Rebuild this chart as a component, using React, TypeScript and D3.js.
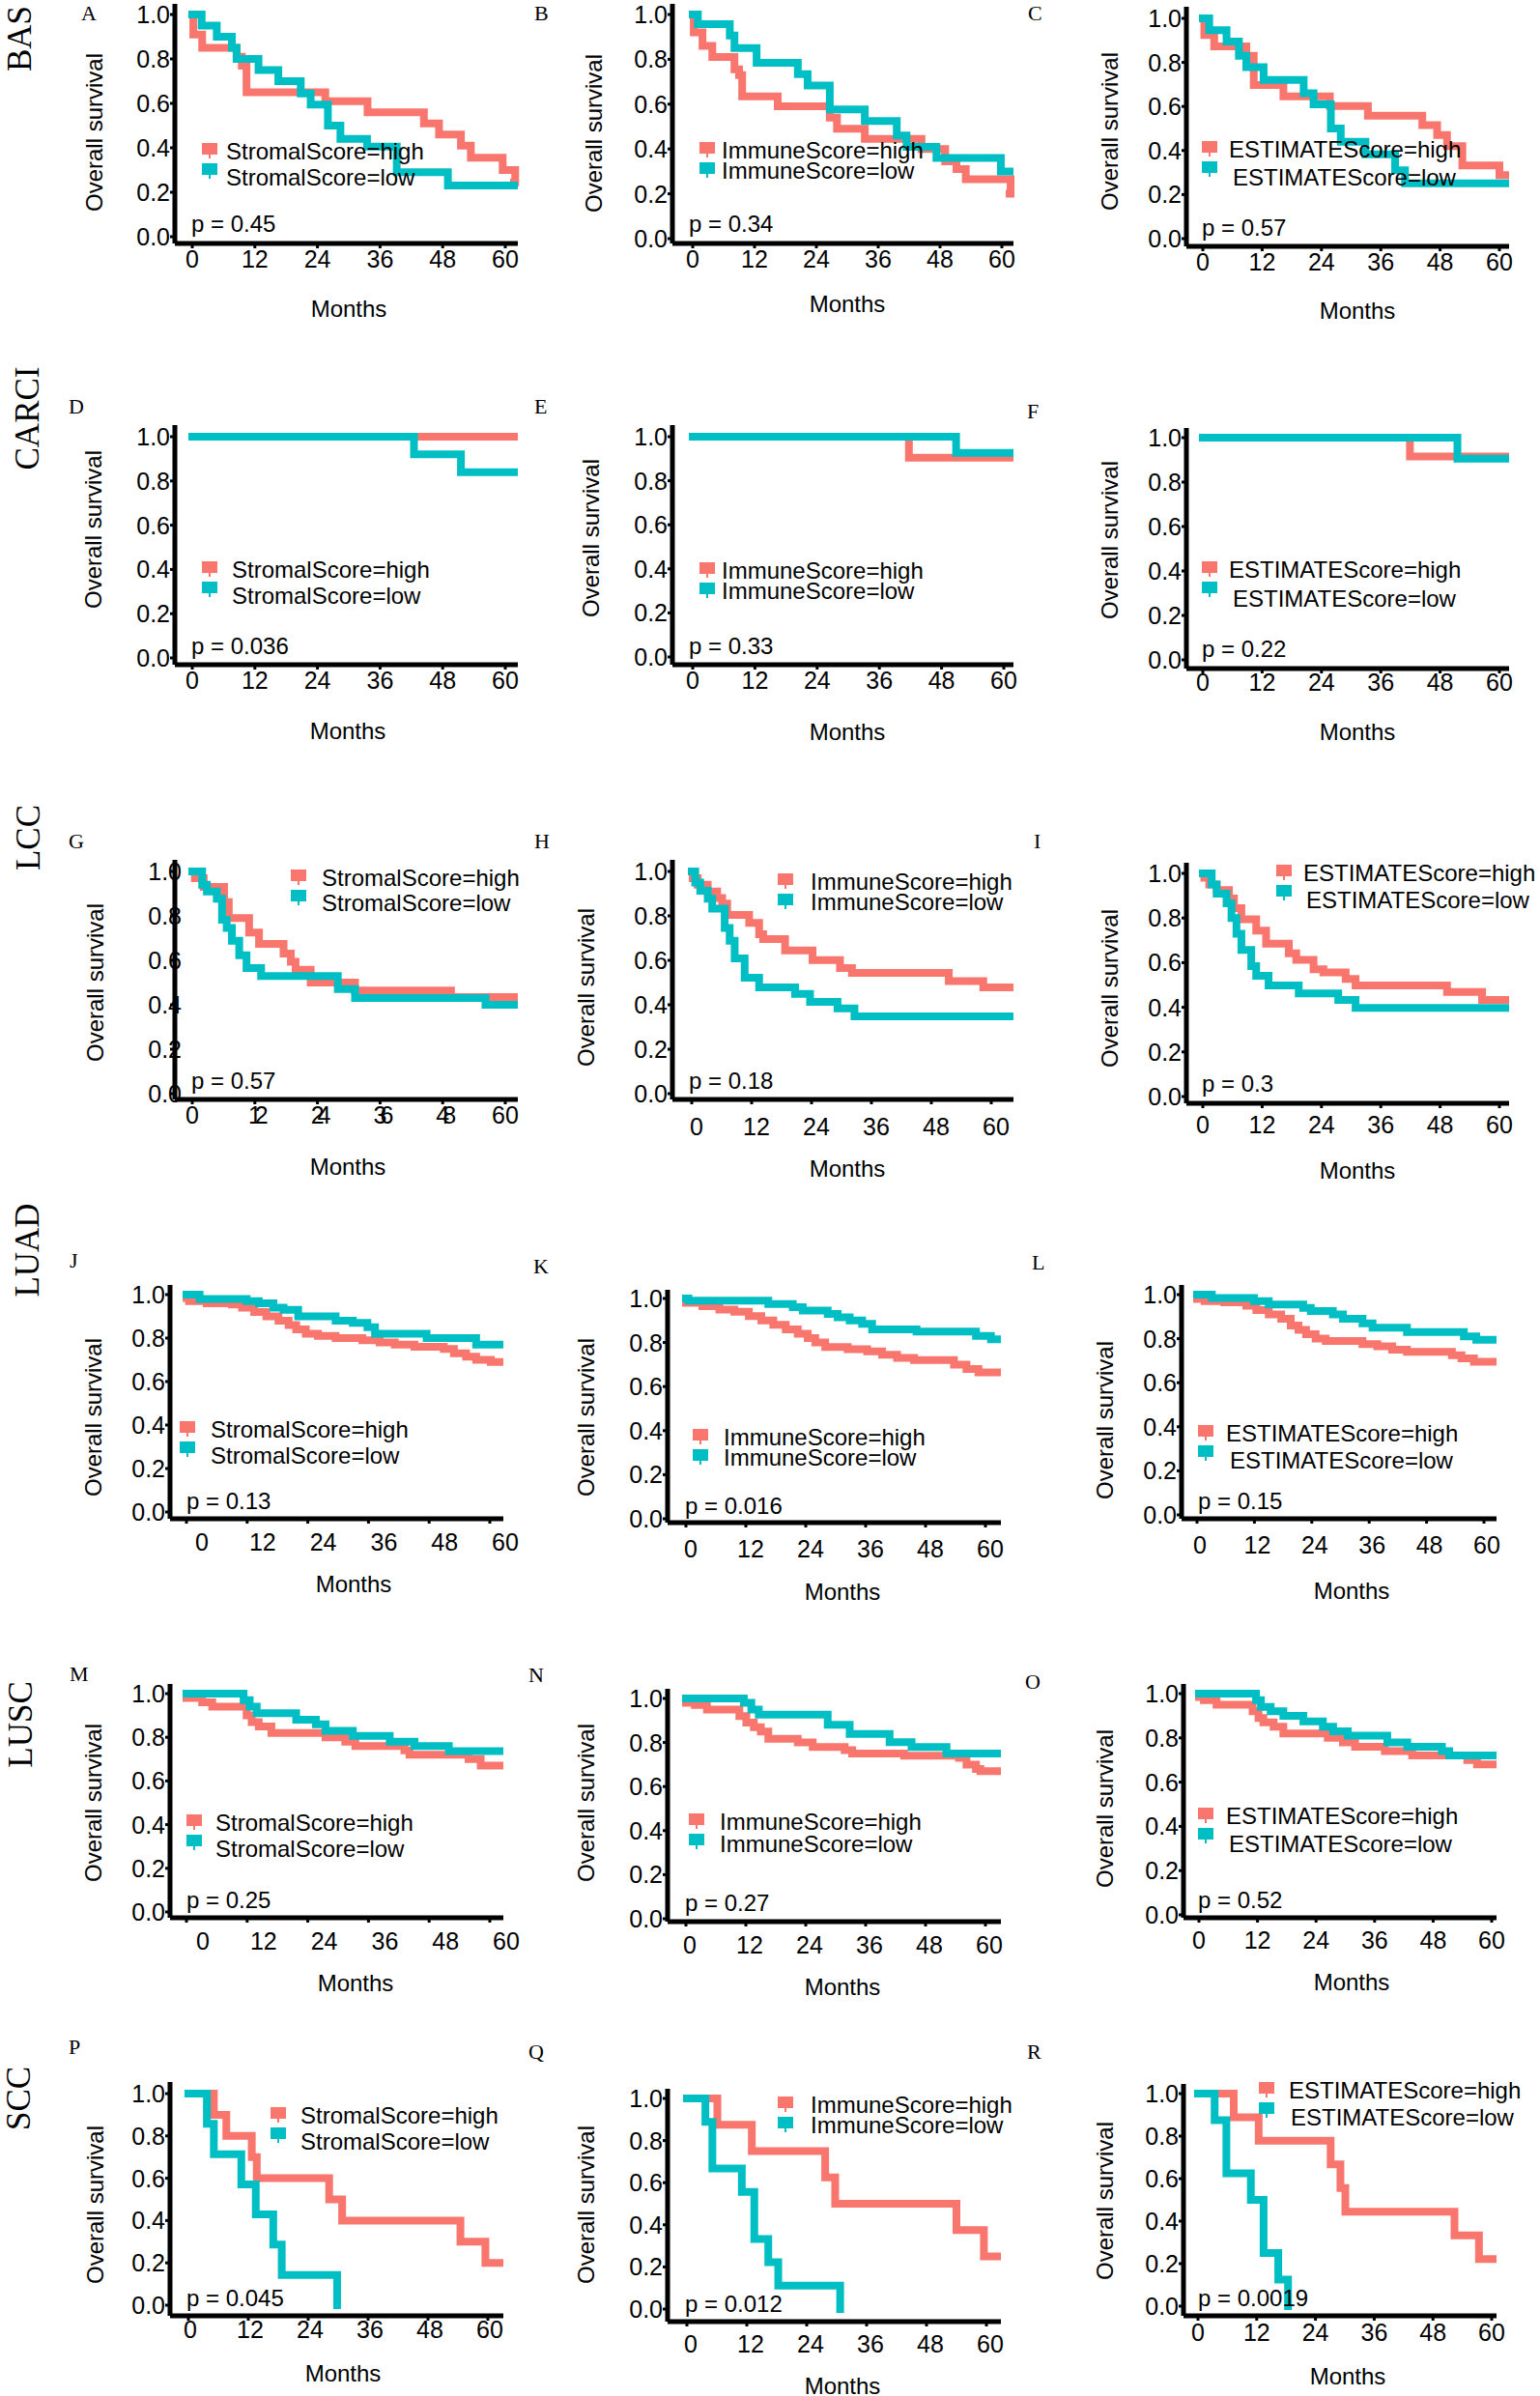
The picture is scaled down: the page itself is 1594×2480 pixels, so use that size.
import React from 'react';
import * as d3 from 'd3';

const RED = '#F8766D';
const TEAL = '#00BFC4';
const SANS = '"Liberation Sans", Arial, sans-serif';
const SERIF = '"Liberation Serif", "Times New Roman", serif';

// ---- data ----
const monthTicks = [0, 12, 24, 36, 48, 60];
const survTicks = [0, 0.2, 0.4, 0.6, 0.8, 1.0];
const cancerTypes = ['BAS', 'CARCI', 'LCC', 'LUAD', 'LUSC', 'SCC'];
const scoreTypes = ['StromalScore', 'ImmuneScore', 'ESTIMATEScore'];
const panelLetters = ['A', 'B', 'C', 'D', 'E', 'F', 'G', 'H', 'I', 'J', 'K', 'L', 'M', 'N', 'O', 'P', 'Q', 'R'];
const pValues = ['0.45', '0.34', '0.57', '0.036', '0.33', '0.22', '0.57', '0.18', '0.3', '0.13', '0.016', '0.15', '0.25', '0.27', '0.52', '0.045', '0.012', '0.0019'];

// survival steps: [month, survival from that month on]
const A_high = [[0, 1], [0.2, 0.91], [1.9, 0.85], [8.5, 0.81], [9.5, 0.77], [10.4, 0.65], [25.5, 0.61], [33.6, 0.56], [44.4, 0.51], [47.3, 0.46], [51.5, 0.41], [53.4, 0.355], [59.5, 0.3], [61.9, 0.245]];
const A_low = [[0, 1], [1.8, 0.95], [4.7, 0.9], [7.6, 0.85], [8.5, 0.8], [12.7, 0.75], [16.5, 0.7], [20.8, 0.645], [22.7, 0.595], [26, 0.5], [28.4, 0.44], [33.5, 0.405], [39.2, 0.29], [49, 0.23]];
const B_high = [[0, 1], [0.2, 0.92], [1.9, 0.86], [3.8, 0.81], [8.1, 0.755], [9, 0.73], [9.6, 0.635], [16.5, 0.59], [26.6, 0.54], [28, 0.49], [33.4, 0.445], [44.4, 0.4], [49, 0.345], [51.2, 0.31], [53, 0.265], [61.7, 0.2]];
const B_low = [[0, 1], [1, 0.957], [7.2, 0.906], [8.1, 0.85], [12.4, 0.785], [20.4, 0.734], [22.3, 0.683], [26.6, 0.576], [33.4, 0.525], [39.6, 0.46], [41.5, 0.41], [47.3, 0.36], [59.8, 0.3]];
const C_high = [[0, 1], [0.3, 0.924], [2.3, 0.873], [8.8, 0.83], [10.3, 0.697], [16.3, 0.646], [25.7, 0.602], [33.4, 0.558], [44.4, 0.515], [47.4, 0.47], [49.4, 0.42], [52.5, 0.332], [60, 0.288]];
const C_low = [[0, 1], [1.3, 0.946], [4.8, 0.895], [7.3, 0.83], [8.8, 0.778], [12.3, 0.72], [20.4, 0.66], [22.4, 0.61], [25.9, 0.5], [27.9, 0.44], [32.9, 0.383], [38.9, 0.31], [40.9, 0.251]];
const D_high = [[0, 1]];
const D_low = [[0, 1], [42.5, 0.92], [51.5, 0.84]];
const E_high = [[0, 1], [41.7, 0.905]];
const E_low = [[0, 1], [50.8, 0.927]];
const F_high = [[0, 1], [41.9, 0.915]];
const F_low = [[0, 1], [51.5, 0.905]];
const G_high = [[0, 1], [0.5, 0.97], [2.2, 0.93], [6.1, 0.862], [7, 0.79], [10.9, 0.725], [12.8, 0.674], [17.5, 0.63], [18.9, 0.594], [19.8, 0.558], [22.7, 0.5], [31.2, 0.464], [49.6, 0.435]];
const G_low = [[0, 1], [1.9, 0.94], [2.8, 0.91], [4.7, 0.877], [5.7, 0.783], [6.6, 0.746], [7.6, 0.688], [9, 0.623], [10.4, 0.565], [13.2, 0.529], [27.9, 0.471], [31.2, 0.43], [56.2, 0.4]];
const H_high = [[0, 1], [0.2, 0.97], [1.2, 0.94], [3.2, 0.91], [5.1, 0.88], [6.1, 0.855], [7.1, 0.804], [11.5, 0.768], [13.5, 0.717], [14.3, 0.696], [18.7, 0.645], [24.2, 0.601], [29.7, 0.565], [32.1, 0.543], [51.5, 0.507], [58.4, 0.478]];
const H_low = [[0, 1], [0.7, 0.95], [1.7, 0.913], [3.2, 0.877], [4.1, 0.833], [6.6, 0.746], [7.6, 0.688], [8.6, 0.609], [10.6, 0.522], [13.5, 0.478], [20.7, 0.449], [23.7, 0.413], [29.2, 0.384], [32.6, 0.348]];
const I_high = [[0, 1], [0.3, 0.98], [1.3, 0.95], [2.8, 0.925], [5.3, 0.887], [6.3, 0.844], [7.8, 0.794], [10.8, 0.743], [12.8, 0.685], [17.4, 0.642], [18.9, 0.613], [22.4, 0.57], [24.4, 0.556], [28.9, 0.527], [30.9, 0.498], [49.4, 0.469], [56.5, 0.433]];
const I_low = [[0, 1], [1.8, 0.95], [2.8, 0.909], [4.8, 0.866], [5.8, 0.8], [6.8, 0.729], [7.8, 0.657], [9.8, 0.584], [10.8, 0.541], [13.3, 0.498], [19.4, 0.462], [27.4, 0.433], [30.9, 0.397]];
const J_high = [[0, 0.985], [0.5, 0.97], [4, 0.96], [9, 0.955], [11, 0.94], [13.4, 0.92], [15.8, 0.9], [18.2, 0.88], [20.2, 0.86], [21.7, 0.84], [23.6, 0.82], [26, 0.81], [29.5, 0.8], [34.8, 0.79], [38.2, 0.78], [41.2, 0.77], [45.1, 0.76], [50.9, 0.75], [52.9, 0.73], [55.3, 0.715], [57.3, 0.7], [60.2, 0.69]];
const J_low = [[0, 1], [2.6, 0.98], [11.9, 0.97], [14.3, 0.96], [17.2, 0.94], [19.2, 0.93], [22.1, 0.9], [29.5, 0.88], [32.9, 0.87], [35.8, 0.85], [37.3, 0.82], [47.5, 0.8], [57.3, 0.77]];
const K_high = [[0, 0.98], [3.3, 0.965], [6.7, 0.95], [9.7, 0.94], [12.6, 0.92], [15.1, 0.9], [17.5, 0.88], [20, 0.86], [22.4, 0.84], [24.4, 0.82], [25.9, 0.8], [27.9, 0.78], [32.4, 0.77], [36.3, 0.76], [39.3, 0.745], [42.3, 0.73], [45.7, 0.72], [53.7, 0.7], [56.2, 0.68], [58.6, 0.665]];
const K_low = [[0, 1], [0.5, 0.99], [16.5, 0.975], [21.4, 0.96], [23.4, 0.945], [28.4, 0.93], [30.4, 0.915], [32.8, 0.9], [35.3, 0.885], [37.3, 0.86], [46.2, 0.85], [58.1, 0.83], [61.1, 0.815]];
const L_high = [[0, 0.98], [1.6, 0.97], [5.7, 0.965], [10.3, 0.95], [12.4, 0.93], [15, 0.91], [17.6, 0.89], [19.6, 0.86], [21.2, 0.84], [22.8, 0.82], [24.8, 0.8], [26.9, 0.79], [34.6, 0.775], [37.7, 0.765], [40.8, 0.75], [43.9, 0.74], [53.3, 0.725], [55.3, 0.71], [57.9, 0.695]];
const L_low = [[0, 1], [3.1, 0.985], [11.9, 0.97], [15, 0.955], [22.2, 0.94], [23.8, 0.925], [28.4, 0.91], [30.5, 0.89], [34.6, 0.87], [36.7, 0.85], [43.9, 0.83], [55.8, 0.81], [58.4, 0.795]];
const M_high = [[0, 0.98], [3.1, 0.96], [5.1, 0.94], [11.9, 0.9], [12.9, 0.87], [14.3, 0.85], [16.8, 0.82], [27.5, 0.8], [31.4, 0.78], [33.4, 0.76], [43.1, 0.74], [44.1, 0.72], [55.8, 0.7], [58.2, 0.67]];
const M_low = [[0, 1], [11.3, 0.97], [12.5, 0.94], [13.9, 0.91], [21.7, 0.88], [25.6, 0.86], [27.5, 0.83], [32.9, 0.806], [40.2, 0.78], [45.1, 0.76], [51.9, 0.737]];
const N_high = [[0, 0.98], [1.8, 0.97], [4.2, 0.95], [10.7, 0.92], [12.1, 0.89], [13.6, 0.87], [15, 0.85], [16.5, 0.817], [22.4, 0.8], [25.4, 0.78], [31.8, 0.765], [33.3, 0.75], [43.7, 0.74], [54.7, 0.73], [56.2, 0.7], [58.1, 0.68], [59, 0.67]];
const N_low = [[0, 1], [11.6, 0.98], [13.1, 0.95], [14.6, 0.927], [28.4, 0.88], [32.8, 0.839], [40.8, 0.802], [45.2, 0.78], [52.2, 0.75]];
const O_high = [[0, 0.985], [1, 0.97], [3.6, 0.95], [11, 0.92], [12.2, 0.89], [13.2, 0.87], [15.3, 0.85], [17.3, 0.82], [26.4, 0.8], [29.5, 0.78], [32, 0.76], [38.1, 0.74], [43.7, 0.72], [55, 0.7], [57, 0.68]];
const O_low = [[0, 1], [11.7, 0.97], [12.7, 0.94], [14.7, 0.92], [17.3, 0.9], [21.4, 0.875], [25.4, 0.85], [27.5, 0.83], [30.5, 0.81], [38.6, 0.78], [42.7, 0.76], [49.8, 0.74], [51.3, 0.72]];
const P_high = [[0, 1], [5.1, 0.9], [7.6, 0.8], [12.7, 0.7], [13.7, 0.6], [28.2, 0.5], [30.8, 0.4], [54.5, 0.3], [59.5, 0.2]];
const P_low = [[0, 1], [3.7, 0.857], [5.1, 0.714], [10.6, 0.571], [13.5, 0.429], [17, 0.286], [18.7, 0.143], [29.8, 0]];
const Q_high = [[0, 1], [6.1, 0.875], [13, 0.75], [27.7, 0.625], [29.7, 0.5], [54, 0.375], [59.5, 0.25]];
const Q_low = [[0, 1], [3.7, 0.889], [5.1, 0.667], [11, 0.556], [13.5, 0.333], [16.3, 0.222], [18.3, 0.111], [30.7, 0]];
const R_high = [[0, 1], [7.3, 0.889], [12.4, 0.778], [27.1, 0.667], [29.1, 0.556], [30.1, 0.444], [52.4, 0.333], [57.4, 0.222]];
const R_low = [[0, 1], [3.4, 0.875], [5.8, 0.625], [10.8, 0.5], [13.4, 0.25], [16.4, 0.125], [18.4, 0]];

const highCurves = [A_high, B_high, C_high, D_high, E_high, F_high, G_high, H_high, I_high, J_high, K_high, L_high, M_high, N_high, O_high, P_high, Q_high, R_high];
const lowCurves = [A_low, B_low, C_low, D_low, E_low, F_low, G_low, H_low, I_low, J_low, K_low, L_low, M_low, N_low, O_low, P_low, Q_low, R_low];

// ---- layout (pixels) ----
// [axisLeft, axisRight, axisTop, axisBottom, xAt0, xAt60, yAt1, yAt0]
const panelBoxes = [
  [181, 536, 4, 252, 199, 523, 15, 245],
  [696, 1049, 4, 252, 717, 1037, 15, 247],
  [1228, 1562, 7, 255, 1245, 1552, 19, 247],
  [181, 536, 440, 688, 199, 523, 452, 681],
  [696, 1049, 440, 688, 717, 1039, 452, 680],
  [1228, 1562, 443, 692, 1245, 1552, 453, 683],
  [181, 536, 890, 1138, 199, 523, 902, 1132],
  [696, 1049, 890, 1138, 716, 1026, 902, 1132],
  [1228, 1562, 893, 1142, 1245, 1552, 904, 1135],
  [176, 521, 1330, 1572, 193, 507, 1340, 1565],
  [691, 1036, 1335, 1576, 710, 1020, 1344, 1572],
  [1223, 1549, 1330, 1572, 1239, 1536, 1340, 1568],
  [176, 521, 1743, 1985, 193, 507, 1753, 1979],
  [691, 1036, 1748, 1989, 710, 1020, 1758, 1986],
  [1225, 1549, 1743, 1985, 1241, 1544, 1753, 1982],
  [176, 521, 2155, 2397, 195, 505, 2167, 2386],
  [691, 1036, 2162, 2403, 711, 1021, 2172, 2390],
  [1225, 1549, 2157, 2397, 1240, 1544, 2167, 2387],
];
const xLabelDx = [0, 0, 0, 0, 0, 0, 0, 5, 0, 16, 5, 3, 17, 4, 0, 2, 4, 0];
const xLabelGap = [25, 25, 25, 25, 25, 23, 25, 37, 31, 33, 36, 36, 33, 33, 32, 23, 32, 26];
const yLabelDx = [0, 0, 0, 0, 0, 0, 12, 0, 0, 0, 0, 0, 0, 0, 0, 0, 0, 0];
// panel G has squeezed two-digit inner tick labels
const squeezedTicks = [false, false, false, false, false, false, true, false, false, false, false, false, false, false, false, false, false, false];
// [squareX, text1X, text2X, baseline1, baseline2]
const legendPos = [
  [209, 234, 234, 165, 192], [724, 747, 747, 164, 185], [1244, 1272, 1276, 163, 192],
  [209, 240, 240, 598, 625], [724, 747, 747, 599, 620], [1244, 1272, 1276, 598, 628],
  [301, 333, 333, 917, 943], [805, 839, 839, 921, 942], [1321, 1349, 1352, 912, 940],
  [186, 218, 218, 1488, 1515], [717, 749, 749, 1496, 1517], [1240, 1269, 1273, 1492, 1520],
  [193, 223, 223, 1895, 1922], [713, 745, 745, 1894, 1917], [1240, 1269, 1272, 1888, 1917],
  [280, 311, 311, 2198, 2225], [805, 839, 839, 2187, 2208], [1303, 1334, 1336, 2172, 2200],
];
const pPos = [
  [198, 240], [713, 240], [1244, 244], [198, 677], [713, 677], [1244, 680],
  [198, 1127], [713, 1127], [1244, 1130], [193, 1562], [709, 1567], [1240, 1562],
  [193, 1975], [709, 1978], [1240, 1975], [193, 2387], [709, 2393], [1240, 2387],
];
const yTitlePos = [
  [98, 137], [615, 138], [1149, 136], [97, 548], [612, 557], [1149, 559],
  [99, 1017], [607, 1022], [1149, 1023], [97, 1467], [607, 1467], [1144, 1470],
  [97, 1866], [607, 1866], [1144, 1872], [99, 2282], [607, 2282], [1144, 2278],
];
const monthsPos = [
  [361, 328], [877, 323], [1405, 330], [360, 765], [877, 766], [1405, 766],
  [360, 1216], [877, 1218], [1405, 1220], [366, 1648], [872, 1656], [1399, 1655],
  [368, 2061], [872, 2065], [1399, 2060], [355, 2465], [872, 2478], [1395, 2468],
];
const letterPos = [
  [84, 21], [553, 21], [1064, 21], [71, 428], [553, 428], [1063, 433],
  [71, 878], [553, 878], [1070, 878], [72, 1312], [552, 1318], [1068, 1314],
  [72, 1740], [547, 1741], [1061, 1748], [71, 2126], [547, 2131], [1063, 2131],
];
const rowLabelPos = [[20, 40], [28, 433], [29, 867], [28, 1294], [21, 1785], [19, 2172]];

const Panel: React.FC<{ i: number }> = ({ i }) => {
  const [axL, axR, axTop, axBot, x0, x60, y1, y0] = panelBoxes[i];
  const x = d3.scaleLinear().domain([0, 60]).range([x0, x60]);
  const y = d3.scaleLinear().domain([0, 1]).range([y0, y1]);
  const tEnd = x.invert(axR - 4);
  const line = d3.line<number[]>()
    .x(d => x(d[0]))
    .y(d => y(d[1]))
    .curve(d3.curveStepAfter);
  const withEnd = (c: number[][]) => {
    const last = c[c.length - 1];
    return last[1] > 0 ? [...c, [tEnd, last[1]]] : c;
  };
  const score = scoreTypes[i % 3];
  const [sqX, tx1, tx2, b1, b2] = legendPos[i];
  const keys = [
    { color: RED, cy: b1 - 11, label: `${score}=high`, tx: tx1, by: b1 },
    { color: TEAL, cy: b1 + 10, label: `${score}=low`, tx: tx2, by: b2 },
  ];

  return (
    <g>
      <text x={letterPos[i][0]} y={letterPos[i][1]} fontFamily={SERIF} fontSize={22}>{panelLetters[i]}</text>

      {/* curves */}
      <path d={line(withEnd(highCurves[i])) || ''} fill="none" stroke={RED} strokeWidth={8} strokeLinecap="square" />
      <path d={line(withEnd(lowCurves[i])) || ''} fill="none" stroke={TEAL} strokeWidth={8} strokeLinecap="square" />

      {/* axes */}
      <line x1={axL} x2={axL} y1={axTop} y2={axBot} stroke="#000" strokeWidth={5} />
      <line x1={axL} x2={axR} y1={axBot} y2={axBot} stroke="#000" strokeWidth={5} />
      {survTicks.map(v => (
        <g key={'y' + v}>
          <line x1={axL - 5} x2={axL} y1={y(v)} y2={y(v)} stroke="#000" strokeWidth={3} />
          <text x={axL - 5 + yLabelDx[i]} y={y(v) + 9} textAnchor="end" fontFamily={SANS} fontSize={25}>{v.toFixed(1)}</text>
        </g>
      ))}
      {monthTicks.map(m => (
        <g key={'x' + m}>
          <line x1={x(m)} x2={x(m)} y1={axBot} y2={axBot + 5} stroke="#000" strokeWidth={3} />
          <text x={x(m) + xLabelDx[i]} y={axBot + xLabelGap[i]} textAnchor="middle" fontFamily={SANS} fontSize={25}
            letterSpacing={squeezedTicks[i] && m > 0 && m < 60 ? -7 : 0}>{m}</text>
        </g>
      ))}

      {/* titles */}
      <text transform={`translate(${yTitlePos[i][0]},${yTitlePos[i][1]}) rotate(-90)`} dy="0.35em" textAnchor="middle" fontFamily={SANS} fontSize={24}>Overall survival</text>
      <text x={monthsPos[i][0]} y={monthsPos[i][1]} textAnchor="middle" fontFamily={SANS} fontSize={24}>Months</text>
      <text x={pPos[i][0]} y={pPos[i][1]} fontFamily={SANS} fontSize={24}>{`p = ${pValues[i]}`}</text>

      {/* legend */}
      {keys.map(k => (
        <g key={k.label}>
          <rect x={sqX} y={k.cy - 6} width={16} height={12} fill={k.color} />
          <line x1={sqX + 8} x2={sqX + 8} y1={k.cy + 6} y2={k.cy + 10} stroke={k.color} strokeWidth={2} />
          <text x={k.tx} y={k.by} fontFamily={SANS} fontSize={24}>{k.label}</text>
        </g>
      ))}
    </g>
  );
};

const App: React.FC = () => {
  return (
    <div style={{ position: 'absolute', left: 0, top: 0 }}>
      <svg width={1594} height={2480} style={{ display: 'block', background: '#fff' }}>
        <rect width={1594} height={2480} fill="#fff" />
        {cancerTypes.map((c, r) => (
          <text key={c} transform={`translate(${rowLabelPos[r][0]},${rowLabelPos[r][1]}) rotate(-90)`} dy="0.35em" textAnchor="middle" fontFamily={SERIF} fontSize={35}>{c}</text>
        ))}
        {panelLetters.map((_, i) => <Panel key={i} i={i} />)}
      </svg>
    </div>
  );
};

export default App;
